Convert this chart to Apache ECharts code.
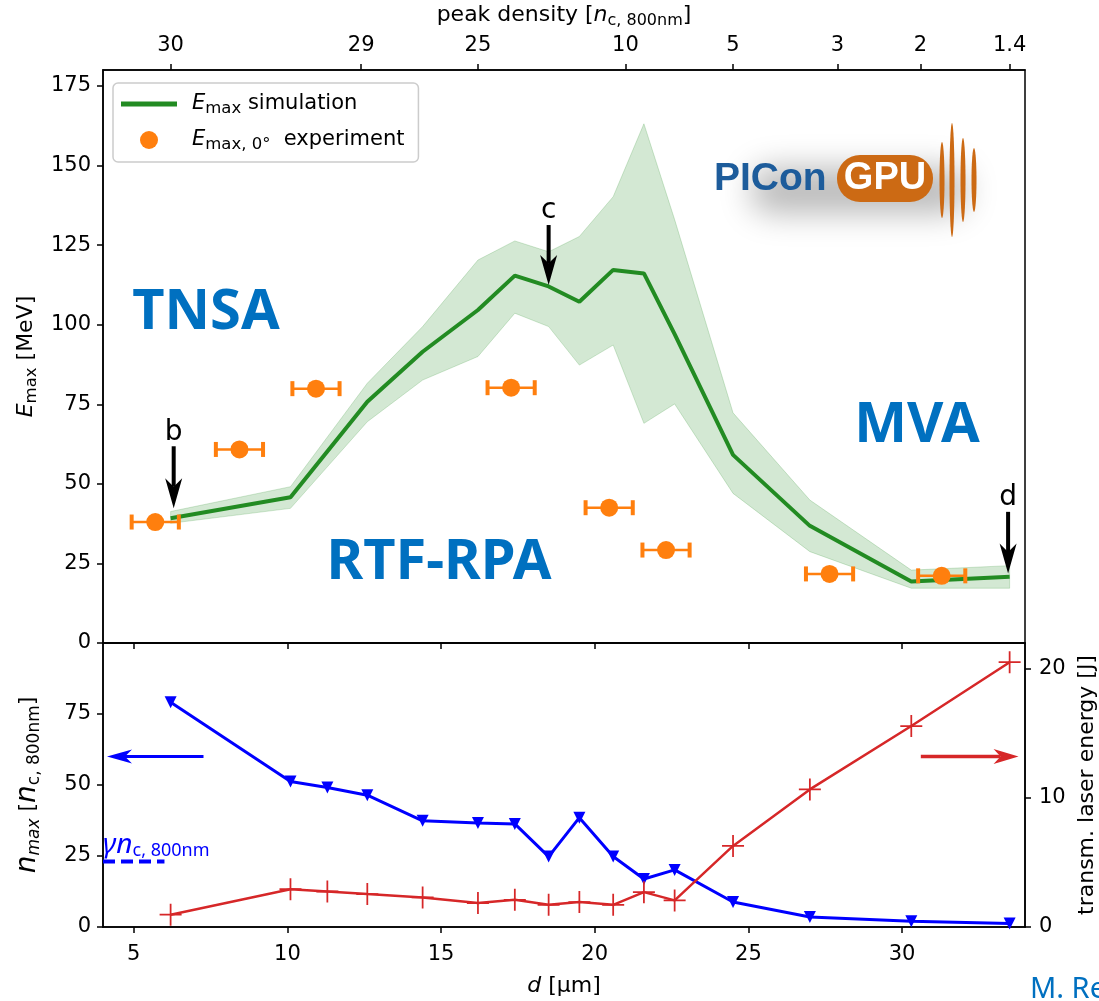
<!DOCTYPE html>
<html>
<head>
<meta charset="utf-8">
<script src="https://cdn.jsdelivr.net/npm/echarts@6/dist/echarts.min.js"></script>
<style>
  html, body { margin: 0; padding: 0; background: #fff; }
  #main { width: 1099px; height: 1001px; }
</style>
</head>
<body>
<div id="main"></div>
<script>
// simulated cut-off energy (top panel), with the shaded spread
const simD   = [6.2, 10.1, 12.6, 14.4, 16.2, 17.4, 18.5, 19.5, 20.6, 21.6, 22.6, 24.5, 27.0, 30.3, 33.5];
const simE   = [39.2, 45.8, 75.8, 91.5, 104.6, 115.4, 112.0, 107.2, 117.2, 116.1, 97.0, 59.1, 36.8, 19.3, 20.8];
const simUp  = [41.3, 49.1, 81.6, 99.4, 120.3, 126.3, 122.9, 127.7, 140.2, 163.1, 133.0, 72.3, 44.9, 22.9, 24.3];
const simLow = [37.6, 42.3, 69.5, 82.6, 90.0, 103.6, 99.4, 87.3, 93.6, 69.0, 75.1, 47.0, 28.7, 17.2, 17.2];

// experiment points
const expD   = [5.7, 8.44, 10.93, 17.28, 20.47, 22.32, 27.64, 31.29];
const expE   = [38.0, 60.8, 79.9, 80.2, 42.5, 29.2, 21.7, 21.1];
const expErr = [0.8, 0.8, 0.8, 0.8, 0.8, 0.8, 0.8, 0.8];

// bottom panel
const nD     = [6.2, 10.1, 11.3, 12.6, 14.4, 16.2, 17.4, 18.5, 19.5, 20.6, 21.6, 22.6, 24.5, 27.0, 30.3, 33.5];
const nMax   = [79.1, 51.2, 49.1, 46.4, 37.4, 36.6, 36.3, 24.8, 38.5, 24.8, 16.9, 20.1, 8.8, 3.5, 2.0, 1.2];
const energy = [0.95, 2.93, 2.75, 2.55, 2.29, 1.85, 2.11, 1.72, 1.93, 1.72, 2.70, 2.06, 6.28, 10.66, 15.57, 20.51];
const gammaD = [4.0, 6.0];
const gammaN = [23.1, 23.1];

// top axis (peak density)
const densD      = [6.2, 12.4, 16.2, 21.0, 24.5, 27.9, 30.6, 33.5];
const densLabels = ['30', '29', '25', '10', '5', '3', '2', '1.4'];

// tick values
const dTicks = [5, 10, 15, 20, 25, 30];
const eTicks = [0, 25, 50, 75, 100, 125, 150, 175];
const nTicks = [0, 25, 50, 75];
const jTicks = [0, 10, 20];

// annotation arrows
const arrowD      = [6.3, 18.5, 33.45];
const arrowTop    = [61.8, 131.3, 41.2];
const arrowTip    = [42.3, 112.5, 21.8];
const arrowLabels = ['b', 'c', 'd'];
const nArrow = [7.27, 4.13, 60];     // from d, to d, n value
const eArrow = [30.61, 33.79, 13.2]; // from d, to d, J value

const FONT = 'DejaVu Sans';
const chart = echarts.init(document.getElementById('main'));

const sub = { fontSize: 16.5, verticalAlign: 'bottom', lineHeight: 17, fontFamily: FONT };
const ital = { fontStyle: 'italic', fontFamily: FONT };

function arrowRender(color, shaftW, headL, headW, labels) {
  return function (params, api) {
    const a = api.coord([api.value(0), api.value(1)]);
    const b = api.coord([api.value(2), api.value(3)]);
    const dx = b[0] - a[0], dy = b[1] - a[1];
    const len = Math.sqrt(dx * dx + dy * dy);
    const ux = dx / len, uy = dy / len, px = -uy, py = ux;
    const base = [b[0] - ux * headL, b[1] - uy * headL];
    const notch = [b[0] - ux * headL * 0.72, b[1] - uy * headL * 0.72];
    const children = [
      { type: 'line', shape: { x1: a[0], y1: a[1], x2: notch[0], y2: notch[1] },
        style: { stroke: color, lineWidth: shaftW } },
      { type: 'polygon', shape: { points: [b,
          [base[0] + px * headW / 2, base[1] + py * headW / 2], notch,
          [base[0] - px * headW / 2, base[1] - py * headW / 2]] },
        style: { fill: color } }
    ];
    if (labels) {
      children.push({ type: 'text', style: { text: labels[params.dataIndex], x: a[0], y: a[1] - 14,
        align: 'center', verticalAlign: 'middle', font: '28px "DejaVu Sans"', fill: '#000' } });
    }
    return { type: 'group', children: children };
  };
}

const axisLineStyle = { show: true, onZero: false, lineStyle: { color: '#000', width: 1.5 } };
const tickStyle = (vals) => ({ show: true, length: 6, customValues: vals, lineStyle: { color: '#000', width: 1.5 } });
const labelStyle = { color: '#000', fontSize: 21, fontFamily: FONT };

chart.setOption({
  animation: false,
  backgroundColor: '#fff',
  grid: [
    { left: 103, top: 70, width: 922, height: 573, show: true, borderColor: '#000', borderWidth: 1.5,
      containLabel: false, outerBoundsMode: 'none' },
    { left: 103, top: 643, width: 922, height: 284, show: true, borderColor: '#000', borderWidth: 1.5,
      containLabel: false, outerBoundsMode: 'none' }
  ],
  legend: {
    left: 113, top: 83, orient: 'vertical',
    padding: [8, 14, 9, 8], itemGap: 10, itemWidth: 56, itemHeight: 18,
    borderColor: '#cccccc', borderWidth: 1.5, borderRadius: 5, backgroundColor: 'rgba(255,255,255,0.8)',
    data: [
      { name: 'sim', icon: 'path://M0,0M0,6.5H56V11.5H0ZM56,18' },
      { name: 'exp', icon: 'circle' }
    ],
    formatter: (name) => name === 'sim' ? '{i|E}{s|max} simulation' : '{i|E}{s|max, 0°}  experiment',
    textStyle: { color: '#000', fontSize: 21, fontFamily: FONT, lineHeight: 26, padding: [0, 0, 0, 10],
      rich: { i: Object.assign({ fontSize: 21, lineHeight: 26 }, ital), s: sub } }
  },
  xAxis: [
    { gridIndex: 0, type: 'value', min: 4, max: 34, position: 'bottom',
      axisLine: axisLineStyle, axisTick: tickStyle(dTicks), axisLabel: { show: false }, splitLine: { show: false } },
    { gridIndex: 0, type: 'value', min: 4, max: 34, position: 'top',
      axisLine: axisLineStyle, axisTick: tickStyle(densD),
      axisLabel: Object.assign({ margin: 14, customValues: densD,
        formatter: (v) => {
          let k = 0;
          densD.forEach((x, i) => { if (Math.abs(x - v) < Math.abs(densD[k] - v)) k = i; });
          return densLabels[k];
        } }, labelStyle),
      splitLine: { show: false },
      name: 'peak density [{i|n}{s|c, 800nm}]', nameLocation: 'middle', nameGap: 41,
      nameTextStyle: { color: '#000', fontSize: 22, fontFamily: FONT, lineHeight: 27,
        rich: { i: Object.assign({ fontSize: 22, lineHeight: 27 }, ital), s: Object.assign({}, sub, { fontSize: 16 }) } } },
    { gridIndex: 1, type: 'value', min: 4, max: 34, position: 'bottom',
      axisLine: axisLineStyle, axisTick: tickStyle(dTicks),
      axisLabel: Object.assign({ margin: 17, customValues: dTicks }, labelStyle),
      splitLine: { show: false },
      name: '{i|d} [µm]', nameLocation: 'middle', nameGap: 48,
      nameTextStyle: { color: '#000', fontSize: 22, fontFamily: FONT,
        rich: { i: Object.assign({ fontSize: 22 }, ital) } } }
  ],
  yAxis: [
    { gridIndex: 0, type: 'value', min: 0, max: 180, position: 'left',
      axisLine: axisLineStyle, axisTick: tickStyle(eTicks),
      axisLabel: Object.assign({ margin: 12, customValues: eTicks }, labelStyle),
      splitLine: { show: false },
      name: '{i|E}{s|max} [MeV]', nameLocation: 'middle', nameGap: 62, nameRotate: 90,
      nameTextStyle: { color: '#000', fontSize: 22, fontFamily: FONT, lineHeight: 27,
        rich: { i: Object.assign({ fontSize: 22, lineHeight: 27 }, ital), s: sub } } },
    { gridIndex: 1, type: 'value', min: 0, max: 100, position: 'left',
      axisLine: axisLineStyle, axisTick: tickStyle(nTicks),
      axisLabel: Object.assign({ margin: 12, customValues: nTicks }, labelStyle),
      splitLine: { show: false },
      name: '{i|n}{si|max} [{i|n}{s|c, 800nm}]', nameLocation: 'middle', nameGap: 60, nameRotate: 90,
      nameTextStyle: { color: '#000', fontSize: 22, fontFamily: FONT, lineHeight: 30,
        rich: { i: Object.assign({ fontSize: 28, lineHeight: 30 }, ital),
          s: Object.assign({}, sub, { fontSize: 17, lineHeight: 18 }),
          si: Object.assign({}, sub, { fontStyle: 'italic', fontSize: 17, lineHeight: 18 }) } } },
    { gridIndex: 1, type: 'value', min: 0, max: 22, position: 'right',
      axisLine: axisLineStyle, axisTick: tickStyle(jTicks),
      axisLabel: Object.assign({ margin: 14, customValues: jTicks }, labelStyle),
      splitLine: { show: false },
      name: 'transm. laser energy [J]', nameLocation: 'middle', nameGap: 44, nameRotate: 90,
      nameTextStyle: { color: '#000', fontSize: 22, fontFamily: FONT } }
  ],
  series: [
    { type: 'custom', name: 'band', xAxisIndex: 0, yAxisIndex: 0, z: 1,
      data: simD.map((d, i) => [d, simUp[i], simLow[i]]),
      renderItem: (params, api) => {
        if (params.dataIndex !== 0) return null;
        const pts = [];
        simD.forEach((d, i) => pts.push(api.coord([d, simUp[i]])));
        for (let i = simD.length - 1; i >= 0; i--) pts.push(api.coord([simD[i], simLow[i]]));
        return { type: 'polygon', shape: { points: pts },
          style: { fill: 'rgba(34,139,34,0.2)', stroke: 'rgba(34,139,34,0.2)', lineWidth: 1 } };
      } },
    { type: 'line', name: 'sim', xAxisIndex: 0, yAxisIndex: 0, z: 3,
      data: simD.map((d, i) => [d, simE[i]]), symbol: 'none',
      lineStyle: { color: '#228b22', width: 4 }, itemStyle: { color: '#228b22' } },
    { type: 'custom', name: 'errbar', xAxisIndex: 0, yAxisIndex: 0, z: 4,
      data: expD.map((d, i) => [d, expE[i], expErr[i]]),
      renderItem: (params, api) => {
        const d = api.value(0), e = api.value(1), w = api.value(2);
        const p0 = api.coord([d - w, e]), p1 = api.coord([d + w, e]);
        const c = '#ff7f0e';
        return { type: 'group', children: [
          { type: 'line', shape: { x1: p0[0], y1: p0[1], x2: p1[0], y2: p1[1] }, style: { stroke: c, lineWidth: 2.5 } },
          { type: 'rect', shape: { x: p0[0] - 1, y: p0[1] - 7.5, width: 4, height: 15 }, style: { fill: c } },
          { type: 'rect', shape: { x: p1[0] - 3, y: p1[1] - 7.5, width: 4, height: 15 }, style: { fill: c } }
        ] };
      } },
    { type: 'scatter', name: 'exp', xAxisIndex: 0, yAxisIndex: 0, z: 5,
      data: expD.map((d, i) => [d, expE[i]]), symbol: 'circle', symbolSize: 18,
      itemStyle: { color: '#ff7f0e', opacity: 1 } },
    { type: 'custom', name: 'arrows', xAxisIndex: 0, yAxisIndex: 0, z: 6,
      data: arrowD.map((d, i) => [d, arrowTop[i], d, arrowTip[i]]),
      renderItem: arrowRender('#000', 4, 30, 17, arrowLabels) },
    { type: 'line', name: 'nmax', xAxisIndex: 2, yAxisIndex: 1, z: 3,
      data: nD.map((d, i) => [d, nMax[i]]), symbol: 'triangle', symbolRotate: 180, symbolSize: 12,
      lineStyle: { color: '#0000ff', width: 3 }, itemStyle: { color: '#0000ff' } },
    { type: 'line', name: 'energy', xAxisIndex: 2, yAxisIndex: 2, z: 3,
      data: nD.map((d, i) => [d, energy[i]]),
      symbol: 'path://M4.6,0H5.4V4.6H10V5.4H5.4V10H4.6V5.4H0V4.6H4.6Z', symbolSize: 22,
      lineStyle: { color: '#d62728', width: 2.5 }, itemStyle: { color: '#d62728' } },
    { type: 'line', name: 'gamma', xAxisIndex: 2, yAxisIndex: 1, z: 3,
      data: gammaD.map((d, i) => [d, gammaN[i]]), symbol: 'none',
      lineStyle: { color: '#0000ff', width: 4, type: [12, 6] } },
    { type: 'custom', name: 'nArrow', xAxisIndex: 2, yAxisIndex: 1, z: 4,
      data: [[nArrow[0], nArrow[2], nArrow[1], nArrow[2]]],
      renderItem: arrowRender('#0000ff', 3, 25, 14) },
    { type: 'custom', name: 'eArrow', xAxisIndex: 2, yAxisIndex: 2, z: 4,
      data: [[eArrow[0], eArrow[2], eArrow[1], eArrow[2]]],
      renderItem: arrowRender('#d62728', 3.5, 25, 15) }
  ],
  graphic: [
    { type: 'text', z: 10, style: { text: 'TNSA', x: 206, y: 313, align: 'center', verticalAlign: 'middle',
      font: 'bold 56px "Noto Sans"', fill: '#0070c0' } },
    { type: 'text', z: 10, style: { text: 'RTF-RPA', x: 439, y: 563, align: 'center', verticalAlign: 'middle',
      font: 'bold 56px "Noto Sans"', fill: '#0070c0' } },
    { type: 'text', z: 10, style: { text: 'MVA', x: 917, y: 426, align: 'center', verticalAlign: 'middle',
      font: 'bold 56px "Noto Sans"', fill: '#0070c0' } },
    { type: 'text', z: 10, style: { text: 'M. Rehwald', x: 1030, y: 990, verticalAlign: 'middle',
      font: '29px "Noto Sans"', fill: '#0070c0' } },
    { type: 'text', z: 10, style: { x: 103, y: 845, verticalAlign: 'middle',
      text: '{i|γn}{s|c, 800nm}', fill: '#0000ff',
      rich: { i: { fontSize: 28, fontStyle: 'italic', fontFamily: 'Noto Sans', fill: '#0000ff', lineHeight: 30 },
        s: { fontSize: 18, fontFamily: 'Noto Sans', fill: '#0000ff', verticalAlign: 'bottom', lineHeight: 19 } } } },
    // PIConGPU logo: blurred haze (shadow of an off-screen rect), then text and waves
    { type: 'group', z: 9, children: [
      { type: 'rect', shape: { x: 745 - 2000, y: 160, width: 215, height: 45, r: 20 },
        style: { fill: '#000', shadowBlur: 32, shadowColor: 'rgba(0,0,0,0.28)', shadowOffsetX: 2006, shadowOffsetY: 8 } }
    ] },
    { type: 'group', z: 10, children: [
      { type: 'text', style: { text: 'PICon', x: 714, y: 179, verticalAlign: 'middle',
        font: 'bold 39px "Liberation Sans"', fill: '#1d5c9b' } },
      { type: 'rect', shape: { x: 837, y: 155, width: 96, height: 47, r: 23 }, style: { fill: '#cc6a14' } },
      { type: 'text', style: { text: 'GPU', x: 885, y: 179, align: 'center', verticalAlign: 'middle',
        font: 'bold 38px "Liberation Sans"', fill: '#fff' } },
      { type: 'ellipse', shape: { cx: 942, cy: 180, rx: 2.5, ry: 38 }, style: { fill: '#cc6a14' } },
      { type: 'ellipse', shape: { cx: 952, cy: 180, rx: 2.5, ry: 57 }, style: { fill: '#cc6a14' } },
      { type: 'ellipse', shape: { cx: 963, cy: 180, rx: 2.5, ry: 42 }, style: { fill: '#cc6a14' } },
      { type: 'ellipse', shape: { cx: 974, cy: 180, rx: 2.5, ry: 32 }, style: { fill: '#cc6a14' } }
    ] }
  ]
});
</script>
</body>
</html>
